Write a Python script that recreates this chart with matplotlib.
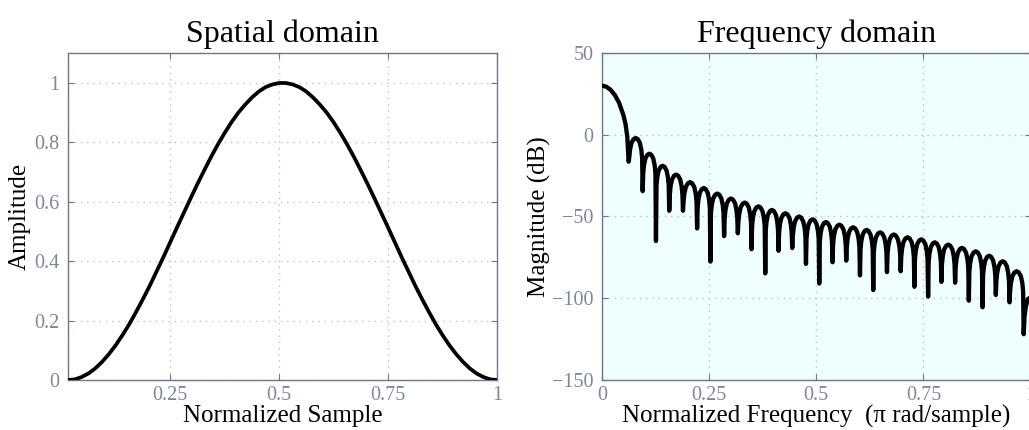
import matplotlib
matplotlib.use("Agg")
import matplotlib.pyplot as plt
import numpy as np

plt.rcParams['font.family'] = ['Liberation Serif', 'DejaVu Serif']
plt.rcParams['axes.unicode_minus'] = True

# --- spatial domain: window samples (64 points) ---
sample_pos = np.arange(1, 65) / 64
amplitude = [0.000, 0.002, 0.010, 0.022, 0.039, 0.061, 0.087, 0.117,
             0.151, 0.188, 0.229, 0.272, 0.317, 0.365, 0.413, 0.463,
             0.513, 0.562, 0.611, 0.659, 0.705, 0.750, 0.792, 0.831,
             0.867, 0.899, 0.926, 0.950, 0.970, 0.985, 0.994, 0.999,
             0.999, 0.994, 0.985, 0.970, 0.950, 0.926, 0.899, 0.867,
             0.831, 0.792, 0.750, 0.705, 0.659, 0.611, 0.562, 0.513,
             0.463, 0.413, 0.365, 0.317, 0.272, 0.229, 0.188, 0.151,
             0.117, 0.087, 0.061, 0.039, 0.022, 0.010, 0.002, 0.000]

# --- frequency domain: values ---
main_freq = [0.0, 0.01, 0.02, 0.03, 0.04, 0.05, 0.055, 0.059]
main_db = [30.0, 29.4, 27.5, 24.3, 19.5, 12.0, 6.5, -1.0]

null_freq = [0.0623, 0.095, 0.126, 0.157, 0.189, 0.222, 0.253, 0.285,
             0.317, 0.349, 0.381, 0.412, 0.444, 0.476, 0.507, 0.538,
             0.570, 0.602, 0.633, 0.665, 0.697, 0.729, 0.761, 0.792,
             0.824, 0.856, 0.888, 0.919, 0.951, 0.984]
null_db = [-16.5, -34.5, -65, -46.5, -46.5, -57.3, -77.6, -62,
           -60.3, -70, -84.8, -71, -69.3, -79, -91, -78,
           -77, -86, -95, -84, -83.5, -93, -99, -90,
           -90.5, -101.5, -105.5, -98, -102.5, -122]
peak_db = [-2, -11.6, -19, -24.4, -29, -32.6, -36, -39, -41.5, -43.8,
           -46, -48, -50, -51.7, -53.4, -55, -56.6, -58.2, -59.7, -61,
           -62.7, -64, -65.8, -67.2, -69.2, -71.3, -74, -77.4, -83.5]
tail_freq = [0.986, 0.989, 0.994, 1.0]
tail_db = [-111, -105, -100.5, -99.5]

# shape of one sidelobe (fraction of lobe width, dB below its peak)
lobe_frac = [0.04, 0.1, 0.2, 0.35, 0.5, 0.65, 0.8, 0.9, 0.96]
lobe_drop = [-12, -7, -3, -0.7, 0, -0.7, -3, -7, -12]

freq = list(main_freq)
mag = list(main_db)
for i in range(len(peak_db)):
    f0, f1 = null_freq[i], null_freq[i + 1]
    freq.append(f0)
    mag.append(null_db[i])
    for fr, dr in zip(lobe_frac, lobe_drop):
        freq.append(f0 + fr * (f1 - f0))
        mag.append(peak_db[i] + dr)
freq.append(null_freq[-1])
mag.append(null_db[-1])
freq += tail_freq
mag += tail_db

spine_col = '#6b778d'
tick_col = '#7d879b'
grid_col = '#b4b8c0'

fig = plt.figure(figsize=(10.29, 4.30), dpi=100)
ax1 = fig.add_axes([0.0661, 0.1163, 0.4169, 0.7605])
ax2 = fig.add_axes([0.585, 0.1163, 0.4165, 0.7605])

ax1.plot(sample_pos, amplitude, color='black', linewidth=2.7, zorder=3)
ax1.set_xlim(1 / 64, 1)
ax1.set_ylim(0, 1.1)
ax1.set_xticks([0.25, 0.5, 0.75, 1])
ax1.set_xticklabels(['0.25', '0.5', '0.75', '1'])
ax1.set_yticks([0, 0.2, 0.4, 0.6, 0.8, 1])
ax1.set_yticklabels(['0', '0.2', '0.4', '0.6', '0.8', '1'])
ax1.set_title('Spatial domain', fontsize=23, pad=8)
ax1.set_xlabel('Normalized Sample', fontsize=18, labelpad=0)
ax1.set_ylabel('Amplitude', fontsize=18, labelpad=3)

ax2.set_facecolor('#effefe')
ax2.plot(freq, mag, color='black', linewidth=3.1, zorder=3)
ax2.set_xlim(0, 1)
ax2.set_ylim(-150, 50)
ax2.set_xticks([0, 0.25, 0.5, 0.75, 1])
ax2.set_xticklabels(['0', '0.25', '0.5', '0.75', '1'])
ax2.set_yticks([-150, -100, -50, 0, 50])
ax2.set_title('Frequency domain', fontsize=23, pad=8)
ax2.set_xlabel('Normalized Frequency  (\u03c0 rad/sample)', fontsize=18, labelpad=0)
ax2.set_ylabel('Magnitude (dB)', fontsize=18, labelpad=1)

for ax in (ax1, ax2):
    ax.grid(True, linestyle=(0, (1, 4)), color=grid_col, linewidth=0.9)
    ax.tick_params(direction='in', length=4, width=0.8, color=spine_col,
                   labelcolor=tick_col, labelsize=14.5, top=True, right=True)
    ax.tick_params(axis='x', pad=4)
    ax.tick_params(axis='y', pad=6)
    for s in ax.spines.values():
        s.set_color(spine_col)
        s.set_linewidth(1.0)

fig.savefig('out.png', dpi=100)
